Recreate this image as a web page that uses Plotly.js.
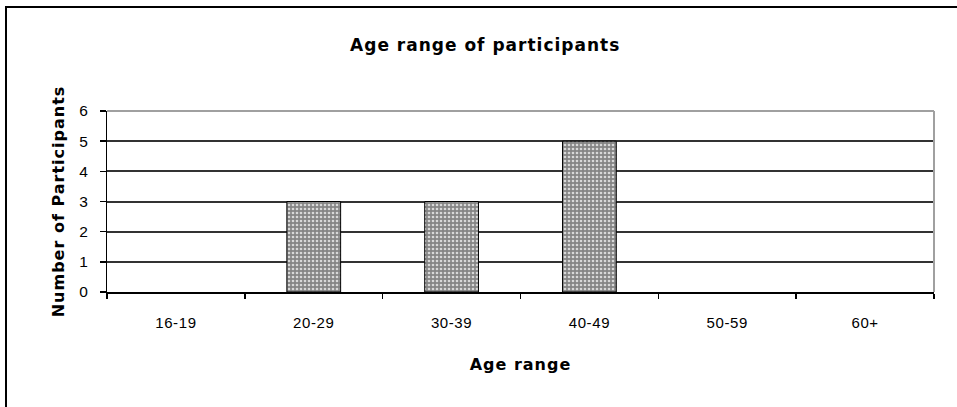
<!DOCTYPE html>
<html>
<head>
<meta charset="utf-8">
<script src="https://cdn.plot.ly/plotly-3.0.1.min.js"></script>
<style>
html,body{margin:0;padding:0;background:#fff;}
#wrap{position:relative;width:957px;height:407px;}
#frame{position:absolute;left:5px;top:6px;width:952px;height:401px;border-top:2px solid #000;border-left:2px solid #000;box-sizing:border-box;pointer-events:none;z-index:5;}
#chart{position:absolute;left:0;top:0;width:957px;height:407px;}
.gtitle,.xtitle,.ytitle{letter-spacing:1px;}
.xtick text,.ytick text{letter-spacing:0.6px;}
</style>
</head>
<body>
<div id="wrap"><div id="chart"></div><div id="frame"></div></div>
<script>
const categories = ["16-19", "20-29", "30-39", "40-49", "50-59", "60+"];
const participants = [0, 3, 3, 5, 0, 0];
const yTicks = [0, 1, 2, 3, 4, 5, 6];

const trace = {
  type: 'bar',
  x: categories,
  y: participants,
  marker: {
    color: '#858585',
    line: {color: '#000', width: participants.map(v => v > 0 ? 1 : 0)},
    pattern: {shape: '.', fgcolor: '#d8d8d8', bgcolor: '#858585', size: 4, solidity: 0.35}
  },
  hoverinfo: 'x+y'
};

const layout = {
  width: 957, height: 407,
  margin: {l: 107, r: 23, t: 111, b: 115},
  paper_bgcolor: '#fff', plot_bgcolor: '#fff',
  bargap: 0.61,
  showlegend: false,
  font: {family: 'Liberation Sans, Arial, sans-serif', color: '#000', size: 14},
  title: {
    text: '<b>Age range of participants</b>',
    font: {family: 'DejaVu Sans, sans-serif', size: 17, color: '#000'},
    x: 0.507, xref: 'container', xanchor: 'center',
    y: 0.89, yref: 'container', yanchor: 'middle'
  },
  xaxis: {
    type: 'category',
    categoryorder: 'array', categoryarray: categories,
    showline: true, linecolor: '#000', linewidth: 1.5,
    tickson: 'boundaries', ticks: 'outside', ticklen: 5, tickcolor: '#000', tickwidth: 1.5,
    ticklabelstandoff: 16,
    tickfont: {family: 'Liberation Sans, Arial, sans-serif', size: 15, color: '#000'},
    showgrid: false, zeroline: false,
    title: {text: '<b>Age range</b>', font: {family: 'DejaVu Sans, sans-serif', size: 16, color: '#000'}, standoff: 29}
  },
  yaxis: {
    range: [0, 6], tickvals: yTicks, ticktext: yTicks.map(String),
    showline: true, linecolor: '#000', linewidth: 1.5,
    ticks: 'outside', ticklen: 6, tickcolor: '#000', tickwidth: 1.5,
    ticklabelstandoff: 8,
    tickfont: {family: 'Liberation Sans, Arial, sans-serif', size: 15.5, color: '#000'},
    showgrid: true, gridcolor: '#333', gridwidth: 2,
    zeroline: false,
    title: {text: '<b>Number of Participants</b>', font: {family: 'DejaVu Sans, sans-serif', size: 16, color: '#000'}, standoff: 10}
  },
  shapes: [
    {type: 'line', xref: 'paper', yref: 'paper', x0: 0, x1: 1, y0: 1, y1: 1, layer: 'above', line: {color: '#a0a0a0', width: 2}},
    {type: 'line', xref: 'paper', yref: 'paper', x0: 1, x1: 1, y0: 0, y1: 1, layer: 'above', line: {color: '#a0a0a0', width: 2}}
  ]
};

Plotly.newPlot('chart', [trace], layout, {displayModeBar: false, staticPlot: true});
</script>
</body>
</html>
